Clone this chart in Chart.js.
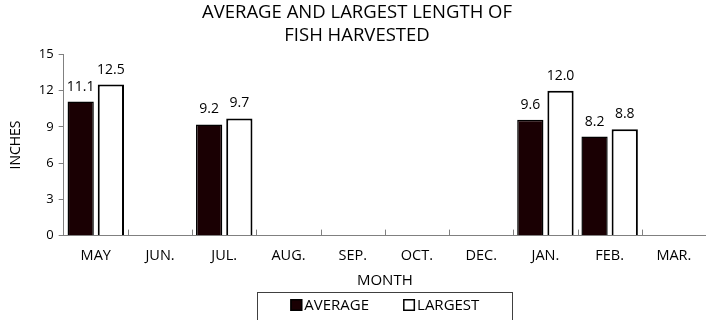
<!DOCTYPE html>
<html>
<head>
<meta charset="utf-8">
<script src="https://cdn.jsdelivr.net/npm/chart.js@4.4.1/dist/chart.umd.min.js"></script>
<style>
  html, body { margin: 0; padding: 0; background: #ffffff; }
  #wrap { width: 706px; height: 320px; position: relative; }
</style>
</head>
<body>
<div id="wrap"><canvas id="chart"></canvas></div>
<script>
// Monthly harvest figures (inches); months with no harvest are left empty
const months = ['MAY', 'JUN.', 'JUL.', 'AUG.', 'SEP.', 'OCT.', 'DEC.', 'JAN.', 'FEB.', 'MAR.'];
const averageLength = [11.1, null, 9.2, null, null, null, null, 9.6, 8.2, null];
const largestLength = [12.5, null, 9.7, null, null, null, null, 12.0, 8.8, null];
const yTicks = [0, 3, 6, 9, 12, 15];
const seriesNames = ['AVERAGE', 'LARGEST'];
const titleLines = ['AVERAGE AND LARGEST LENGTH OF', 'FISH HARVESTED'];

const FONT = '"Open Sans", "Noto Sans", sans-serif';
const AXIS_GREY = '#808080';

// Value printed above each bar
const valueLabels = {
  id: 'valueLabels',
  afterDatasetsDraw(chart) {
    const ctx = chart.ctx;
    ctx.save();
    ctx.font = '14px ' + FONT;
    ctx.fillStyle = '#000';
    ctx.textAlign = 'center';
    ctx.textBaseline = 'alphabetic';
    chart.data.datasets.forEach((ds, di) => {
      const meta = chart.getDatasetMeta(di);
      meta.data.forEach((bar, i) => {
        const v = ds.data[i];
        if (v === null || v === undefined) return;
        ctx.fillText(v.toFixed(1), bar.x, bar.y - 11);
      });
    });
    ctx.restore();
  }
};

// Short marks rising from the x axis between month groups
const categoryMarks = {
  id: 'categoryMarks',
  afterDraw(chart) {
    const xs = chart.scales.x;
    const n = chart.data.labels.length;
    const step = xs.getPixelForValue(1) - xs.getPixelForValue(0);
    const ctx = chart.ctx;
    ctx.save();
    ctx.strokeStyle = AXIS_GREY;
    ctx.lineWidth = 1;
    ctx.beginPath();
    for (let i = 1; i < n; i++) {
      const x = Math.round(xs.getPixelForValue(i) - step / 2) + 0.5;
      ctx.moveTo(x, xs.top);
      ctx.lineTo(x, xs.top - 6);
    }
    ctx.stroke();
    ctx.restore();
  }
};

// Framed legend below the axis title
const framedLegend = {
  id: 'framedLegend',
  afterDraw(chart) {
    const ctx = chart.ctx;
    const area = chart.chartArea;
    const xs = chart.scales.x;
    const fontSize = 15;
    const box = 12;
    const gapBoxText = 2;
    const itemGap = 34;
    ctx.save();
    ctx.font = fontSize + 'px ' + FONT;
    const items = chart.data.datasets.map(ds => ({
      label: ds.label,
      fill: ds.backgroundColor,
      w: box + gapBoxText + ctx.measureText(ds.label).width
    }));
    const total = items.reduce((s, it) => s + it.w, 0) + itemGap * (items.length - 1);
    const cx = (area.left + area.right) / 2;
    const frameW = total + 66;
    const frameTop = xs.bottom + 2;
    const midY = frameTop + 13;

    ctx.strokeStyle = '#404040';
    ctx.lineWidth = 1;
    ctx.strokeRect(Math.round(cx - frameW / 2) + 0.5, Math.round(frameTop) + 0.5,
                   Math.round(frameW), 60);

    let x = cx - total / 2;
    ctx.textBaseline = 'middle';
    ctx.textAlign = 'left';
    items.forEach(it => {
      ctx.fillStyle = it.fill;
      ctx.fillRect(x, midY - box / 2, box, box);
      ctx.strokeStyle = '#000';
      ctx.lineWidth = 1.5;
      ctx.strokeRect(x + 0.75, midY - box / 2 + 0.75, box - 1.5, box - 1.5);
      ctx.fillStyle = '#000';
      ctx.fillText(it.label, x + box + gapBoxText, midY + 1);
      x += it.w + itemGap;
    });
    ctx.restore();
  }
};

new Chart(document.getElementById('chart'), {
  type: 'bar',
  data: {
    labels: months,
    datasets: [
      {
        label: seriesNames[0],
        data: averageLength,
        backgroundColor: '#1a0003',
        borderColor: '#000000',
        borderWidth: 1.5
      },
      {
        label: seriesNames[1],
        data: largestLength,
        backgroundColor: '#ffffff',
        borderColor: '#000000',
        borderWidth: 2
      }
    ]
  },
  options: {
    responsive: true,
    maintainAspectRatio: false,
    animation: false,
    categoryPercentage: 0.94,
    barPercentage: 0.87,
    layout: { padding: { left: 8, right: 0, top: 0, bottom: 30 } },
    plugins: {
      legend: { display: false },
      tooltip: { enabled: false },
      title: {
        display: true,
        text: titleLines,
        color: '#000',
        font: { family: FONT, size: 18.5, weight: 'normal', lineHeight: 1.2 },
        padding: { top: 2, bottom: 8 }
      }
    },
    scales: {
      x: {
        grid: { display: false, drawTicks: false, tickLength: 0 },
        border: { display: true, color: AXIS_GREY, width: 1 },
        ticks: {
          color: '#000',
          padding: 12,
          font: { family: FONT, size: 14.5 }
        },
        title: {
          display: true,
          text: 'MONTH',
          color: '#000',
          font: { family: FONT, size: 15, lineHeight: 1 },
          padding: { top: -4, bottom: 2 }
        }
      },
      y: {
        min: 0,
        max: 15,
        afterBuildTicks(scale) { scale.ticks = yTicks.map(v => ({ value: v })); },
        grid: { drawOnChartArea: false, drawTicks: true, tickLength: 5, color: AXIS_GREY },
        border: { display: true, color: AXIS_GREY, width: 1 },
        ticks: {
          color: '#000',
          padding: 5,
          font: { family: FONT, size: 13 }
        },
        title: {
          display: true,
          text: 'INCHES',
          color: '#000',
          font: { family: FONT, size: 14 },
          padding: { top: 0, bottom: 9 }
        }
      }
    }
  },
  plugins: [valueLabels, categoryMarks, framedLegend]
});
</script>
</body>
</html>
